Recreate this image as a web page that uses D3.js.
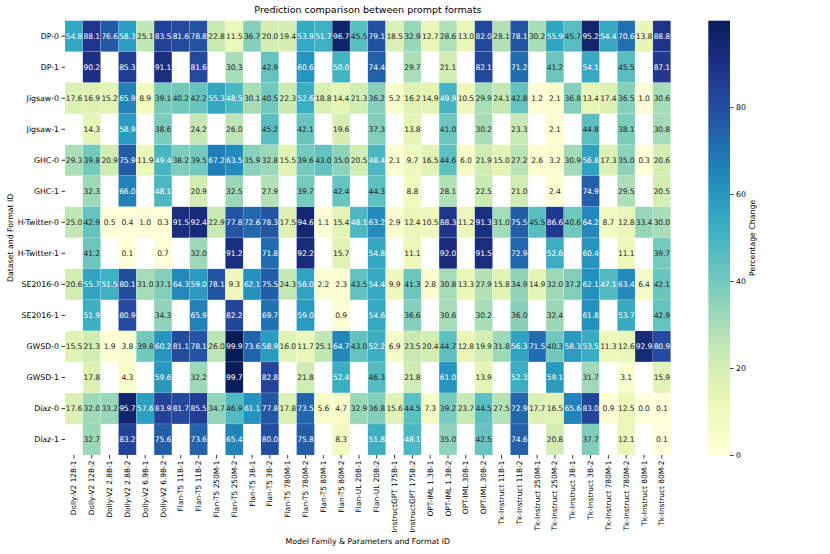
<!DOCTYPE html>
<html><head><meta charset="utf-8">
<script src="https://cdn.jsdelivr.net/npm/d3@7"></script>
<style>body{margin:0;background:#fff;font-family:"DejaVu Sans",sans-serif;}</style>
</head><body><svg id="c" width="830" height="554"></svg>
<script>
const title = "Prediction comparison between prompt formats";
const xTitle = "Model Family & Parameters and Format ID";
const yTitle = "Dataset and Format ID";
const cbTitle = "Percentage Change";
const rows = ["DP-0","DP-1","Jigsaw-0","Jigsaw-1","GHC-0","GHC-1","H-Twitter-0","H-Twitter-1","SE2016-0","SE2016-1","GWSD-0","GWSD-1","Diaz-0","Diaz-1"];
const cols = ["Dolly-V2 12B-1","Dolly-V2 12B-2","Dolly-V2 2.8B-1","Dolly-V2 2.8B-2","Dolly-V2 6.9B-1","Dolly-V2 6.9B-2",
  "Flan-T5 11B-1","Flan-T5 11B-2","Flan-T5 250M-1","Flan-T5 250M-2","Flan-T5 3B-1","Flan-T5 3B-2",
  "Flan-T5 780M-1","Flan-T5 780M-2","Flan-T5 80M-1","Flan-T5 80M-2","Flan-UL 20B-1","Flan-UL 20B-2",
  "InstructGPT 175B-1","InstructGPT 175B-2","OPT-IML 1.3B-1","OPT-IML 1.3B-2","OPT-IML 30B-1","OPT-IML 30B-2",
  "Tk-Instruct 11B-1","Tk-Instruct 11B-2","Tk-Instruct 250M-1","Tk-Instruct 250M-2","Tk-Instruct 3B-1","Tk-Instruct 3B-2",
  "Tk-Instruct 780M-1","Tk-Instruct 780M-2","Tk-Instruct 80M-1","Tk-Instruct 80M-2"];
const colorTicks = [0,20,40,60,80];
const _ = null;
const dp0 = [54.8,88.1,76.6,58.3,25.1,83.5,81.6,78.8,22.8,11.5,36.7,20.0,19.4,53.9,51.7,96.7,45.5,79.1,18.5,32.9,12.7,28.6,13.0,82.0,28.1,78.1,30.2,55.9,45.7,95.2,54.4,70.6,13.8,88.8];
const dp1 = [_,90.2,_,85.3,_,91.1,_,81.6,_,30.3,_,42.9,_,60.6,_,50.0,_,74.4,_,29.7,_,21.1,_,82.1,_,71.2,_,41.2,_,54.1,_,45.5,_,87.1];
const jigsaw0 = [17.6,16.9,15.2,65.9,8.9,39.1,40.2,42.2,55.3,48.5,30.1,40.5,22.3,52.6,18.8,14.4,21.3,36.2,5.2,16.2,14.9,49.9,10.5,29.9,24.1,42.8,1.2,2.1,36.8,13.4,17.4,36.5,1.0,30.6];
const jigsaw1 = [_,14.3,_,58.9,_,38.6,_,24.2,_,26.0,_,45.2,_,42.1,_,19.6,_,37.3,_,13.8,_,41.0,_,30.2,_,23.3,_,2.1,_,44.8,_,38.1,_,30.8];
const ghc0 = [29.3,39.8,20.9,75.9,11.9,49.4,38.2,39.5,67.2,63.5,35.9,32.8,15.5,39.6,43.0,35.0,20.5,48.4,2.1,9.7,16.5,44.6,6.0,21.9,15.0,27.2,2.6,3.2,30.9,56.8,17.3,35.0,0.3,20.6];
const ghc1 = [_,32.3,_,66.0,_,48.1,_,20.9,_,32.5,_,27.9,_,39.7,_,42.4,_,44.3,_,8.8,_,28.1,_,22.5,_,21.0,_,2.4,_,74.9,_,29.5,_,20.5];
const htw0 = [25.0,42.9,0.5,0.4,1.0,0.3,91.5,92.4,22.9,77.8,72.6,78.3,17.5,94.6,1.1,15.4,48.1,63.2,2.9,12.4,10.5,88.3,11.2,91.3,31.0,75.5,45.5,86.6,40.6,64.2,8.7,12.8,33.4,30.0];
const htw1 = [_,41.2,_,0.1,_,0.7,_,32.0,_,91.2,_,71.8,_,92.2,_,15.7,_,54.8,_,11.1,_,92.0,_,91.5,_,72.9,_,52.6,_,60.4,_,11.1,_,39.7];
const se0 = [20.6,55.7,51.5,80.1,31.0,37.1,64.3,59.0,78.1,9.3,62.1,75.5,24.3,56.0,2.2,2.3,43.5,54.4,9.9,41.3,2.8,30.8,13.3,27.9,15.8,34.9,14.9,32.0,37.2,62.1,47.1,63.4,6.4,42.1];
const se1 = [_,51.9,_,80.9,_,34.3,_,65.9,_,82.2,_,69.7,_,59.0,_,0.9,_,54.6,_,36.6,_,30.6,_,30.2,_,36.0,_,32.4,_,61.8,_,53.7,_,42.9];
const gwsd0 = [15.5,21.3,1.9,3.8,39.8,60.2,81.1,78.1,26.0,99.9,73.6,58.9,16.0,11.7,25.1,64.7,43.0,52.2,6.9,23.5,20.4,44.7,12.8,19.9,31.8,56.3,71.5,40.3,58.3,53.5,11.3,12.6,92.9,80.9];
const gwsd1 = [_,17.8,_,4.3,_,59.6,_,32.2,_,99.7,_,82.8,_,21.8,_,52.4,_,46.3,_,21.8,_,61.0,_,13.9,_,52.3,_,59.1,_,31.7,_,3.1,_,15.9];
const diaz0 = [17.6,32.0,33.2,95.7,57.6,83.9,81.7,85.5,34.7,46.9,61.1,77.8,17.8,73.5,5.6,4.7,32.9,36.8,15.6,44.5,7.3,39.2,23.7,44.5,27.5,72.9,17.7,16.5,65.6,83.0,0.9,12.5,0.0,0.1];
const diaz1 = [_,32.7,_,83.2,_,75.6,_,73.6,_,65.4,_,80.0,_,75.8,_,8.3,_,51.8,_,48.1,_,35.0,_,42.5,_,74.6,_,20.8,_,37.7,_,12.1,_,0.1];
const matrix = [dp0,dp1,jigsaw0,jigsaw1,ghc0,ghc1,htw0,htw1,se0,se1,gwsd0,gwsd1,diaz0,diaz1];

const cells = [];
matrix.forEach((r,i)=>r.forEach((v,j)=>{ if(v!==null) cells.push({row:rows[i],col:cols[j],v}); }));
const vmin = d3.min(cells,d=>d.v), vmax = d3.max(cells,d=>d.v);

const L=65, T=20.7, W=605.7, H=434.3;
const svg = d3.select("#c");
const x = d3.scaleBand().domain(cols).range([L,L+W]);
const y = d3.scaleBand().domain(rows).range([T,T+H]);
const color = d3.scaleSequential(d3.interpolateYlGnBu).domain([vmin,vmax]);

function lum(c){
  const rgb=d3.rgb(c);
  const f=v=>{v/=255;return v<=0.03928?v/12.92:Math.pow((v+0.055)/1.055,2.4);};
  return 0.2126*f(rgb.r)+0.7152*f(rgb.g)+0.0722*f(rgb.b);
}

svg.append("g").selectAll("rect").data(cells).join("rect")
  .attr("x",d=>x(d.col)).attr("y",d=>y(d.row))
  .attr("width",x.bandwidth()).attr("height",y.bandwidth())
  .attr("fill",d=>color(d.v)).attr("stroke","rgba(255,255,255,0.35)").attr("stroke-width",0.4);

svg.append("g").selectAll("text").data(cells).join("text")
  .attr("x",d=>x(d.col)+x.bandwidth()/2).attr("y",d=>y(d.row)+y.bandwidth()/2)
  .attr("text-anchor","middle").attr("dominant-baseline","central")
  .attr("font-size",7.6).attr("letter-spacing",-0.15)
  .attr("fill",d=>lum(color(d.v))>0.408?"#262626":"#ffffff")
  .text(d=>d.v.toFixed(1));

const xAxis = svg.append("g").attr("transform",`translate(0,${T+H})`)
  .call(d3.axisBottom(x).tickSize(3.5).tickPadding(2.5));
xAxis.select(".domain").remove();
xAxis.selectAll("line").attr("stroke","#000").attr("stroke-width",0.8);
xAxis.selectAll(".tick text").attr("font-size",7.4).attr("font-family","DejaVu Sans").attr("fill","#000")
  .attr("transform","rotate(-90)").attr("text-anchor","end")
  .attr("x",-5.5).attr("y",0).attr("dy","0.34em");

const yAxis = svg.append("g").attr("transform",`translate(${L},0)`)
  .call(d3.axisLeft(y).tickSize(3.5).tickPadding(2.5));
yAxis.select(".domain").remove();
yAxis.selectAll("line").attr("stroke","#000").attr("stroke-width",0.8);
yAxis.selectAll("text").attr("font-size",7.8).attr("font-family","DejaVu Sans").attr("fill","#000");

svg.append("text").attr("x",L+W/2).attr("y",12.5).attr("text-anchor","middle")
  .attr("font-size",9.5).text(title);
svg.append("text").attr("x",L+W/2).attr("y",544).attr("text-anchor","middle")
  .attr("font-size",7.8).text(xTitle);
svg.append("text").attr("transform",`translate(13,${T+H/2}) rotate(-90)`).attr("text-anchor","middle")
  .attr("font-size",7.8).text(yTitle);

// colorbar
const cbX=708.3, cbW=21.7;
const cy = d3.scaleLinear().domain([vmin,vmax]).range([T+H,T]);
const defs = svg.append("defs");
const grad = defs.append("linearGradient").attr("id","cbg").attr("x1",0).attr("y1",1).attr("x2",0).attr("y2",0);
d3.range(0,1.0001,0.05).forEach(t=>grad.append("stop").attr("offset",t).attr("stop-color",color(vmin+t*(vmax-vmin))));
svg.append("rect").attr("x",cbX).attr("y",T).attr("width",cbW).attr("height",H).attr("fill","url(#cbg)");
const cAxis = svg.append("g").attr("transform",`translate(${cbX+cbW},0)`)
  .call(d3.axisRight(cy).tickValues(colorTicks).tickSize(3.5).tickPadding(2.5));
cAxis.select(".domain").remove();
cAxis.selectAll("line").attr("stroke","#000").attr("stroke-width",0.8);
cAxis.selectAll("text").attr("font-size",7.8).attr("font-family","DejaVu Sans").attr("fill","#000");
svg.append("text").attr("transform",`translate(755,${T+H/2}) rotate(-90)`).attr("text-anchor","middle")
  .attr("font-size",7.8).text(cbTitle);
</script></body></html>
